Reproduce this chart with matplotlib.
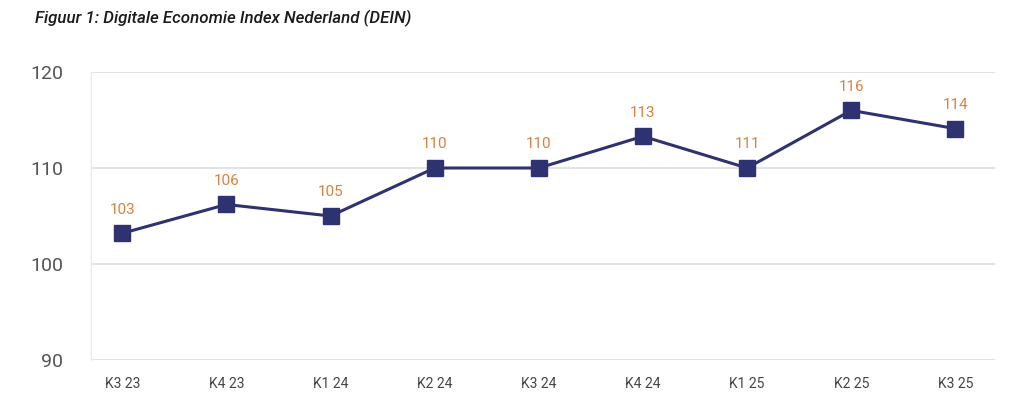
import matplotlib
matplotlib.use("Agg")
import matplotlib.pyplot as plt

categories = ["K3 23", "K4 23", "K1 24", "K2 24", "K3 24", "K4 24", "K1 25", "K2 25", "K3 25"]
values = [103.2, 106.2, 105.0, 110.0, 110.0, 113.3, 110.0, 116.0, 114.1]
labels = ["103", "106", "105", "110", "110", "113", "111", "116", "114"]
yticks = [90, 100, 110, 120]

plt.rcParams['font.family'] = ['Roboto', 'DejaVu Sans']

fig = plt.figure(figsize=(10.24, 4.15), dpi=100)
ax = fig.add_axes([91/1024, 1-360/415, (995-91)/1024, (360-72)/415])

x = list(range(len(categories)))
ax.plot(x, values, color="#2E3270", linewidth=2.2, marker="s", markersize=11.5,
        markerfacecolor="#2E3270", markeredgecolor="#2E3270", zorder=3)
for xi, v, lab in zip(x, values, labels):
    ax.annotate(lab, (xi, v), xytext=(0, 12), textcoords="offset points",
                ha="center", va="bottom", color="#D9823F", fontsize=11)

ax.set_xlim(-0.3, 8.38)
ax.set_ylim(90, 120)
ax.set_yticks(yticks)
ax.set_yticklabels([str(t) for t in yticks])
ax.set_xticks(x)
ax.set_xticklabels(categories)
ax.yaxis.grid(True, color="#E3E3E3", linewidth=1.5)
ax.set_axisbelow(True)
for s in ["top", "right", "bottom"]:
    ax.spines[s].set_visible(False)
ax.spines["left"].set_color("#EBEBEB")
ax.spines["left"].set_linewidth(1)
ax.tick_params(axis="y", length=0, pad=20, labelsize=14, labelcolor="#555555")
ax.tick_params(axis="x", length=0, pad=12, labelsize=10, labelcolor="#444444")

fig.text(35/1024, 1-18/415, "Figuur 1: Digitale Economie Index Nederland (DEIN)",
         fontsize=12.2, style="italic", weight="medium", color="#1a1a1a",
         ha="left", va="center")

fig.savefig("out.png", dpi=100, facecolor="white")
